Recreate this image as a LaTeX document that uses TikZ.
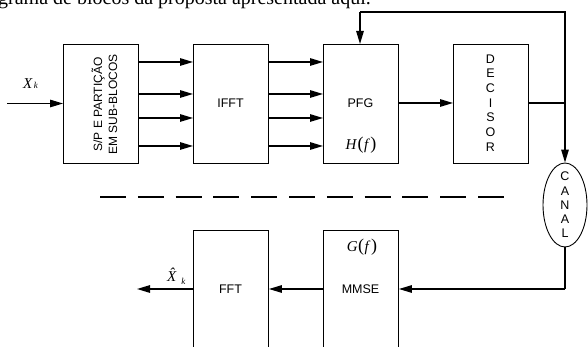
\documentclass[tikz,border=0pt]{standalone}
\usepackage{fontspec}
\setmainfont{Liberation Serif}
\newfontfamily\arialf{Liberation Sans}
\usetikzlibrary{arrows.meta,shapes.geometric}
\tikzset{
  blk/.style={draw, line width=0.9pt, minimum width=75pt, minimum height=119pt, inner sep=0pt, anchor=north west},
  sig/.style={line width=1.3pt, -{Triangle[length=13pt,width=7.5pt]}},
  wire/.style={line width=1.3pt},
  lbl/.style={font=\arialf\fontsize{12.5}{15}\selectfont, inner sep=0pt},
  mth/.style={font=\fontsize{15}{16}\selectfont, inner sep=0pt}
}
\begin{document}
\begin{tikzpicture}[x=1pt,y=-1pt]
\useasboundingbox (0,0) rectangle (588,347);
\clip (0,0) rectangle (588,347);
% caption fragment
\node[anchor=base west, inner sep=0pt, font=\fontsize{20}{22}\selectfont] (cap) at (-2,5) {grama de blocos da proposta apresentada aqui.};
% boxes
\node[blk] (sp) at (63,44) {};
\node[blk] (ifft) at (193,44) {};
\node[blk] (pfg) at (323,44) {};
\node[blk] (dec) at (453,44) {};
\node[blk, minimum height=130pt] (fft) at (193,230) {};
\node[blk, minimum height=130pt] (mmse) at (323,230) {};
\node[draw, ellipse, line width=0.9pt, minimum width=44pt, minimum height=84pt, inner sep=0pt] (canal) at (565,205) {};
% texts
\node[lbl, rotate=90, align=center, font=\arialf\fontsize{12}{15}\selectfont] (sptxt) at (104.5,104.5) {S/P E PARTIÇÃO\\EM SUB-BLOCOS};
\node[lbl] (ifftt) at (230.5,103) {IFFT};
\node[lbl] (pfgt) at (360.5,103) {PFG};
\node[mth] (hf) at (361,145) {\textit{H}\kern0.5pt{\fontsize{18}{18}\selectfont(}\kern0.5pt\textit{f}\kern0.5pt{\fontsize{18}{18}\selectfont)}};
\node[lbl, align=center, font=\arialf\fontsize{12.5}{14.7}\selectfont] (dect) at (490.5,103) {D\\E\\C\\I\\S\\O\\R};
\node[lbl, align=center, font=\arialf\fontsize{12.5}{14.3}\selectfont] (canalt) at (565,205) {C\\A\\N\\A\\L};
\node[lbl] (fftt) at (230.5,289) {FFT};
\node[lbl] (mmset) at (360.5,289) {MMSE};
\node[mth] (gf) at (362,247) {\textit{G}\kern0.5pt{\fontsize{18}{18}\selectfont(}\kern0.5pt\textit{f}\kern0.5pt{\fontsize{18}{18}\selectfont)}};
% input / output
\coordinate (in) at (7,103.5);
\coordinate (out) at (137,289);
\node[mth, anchor=base west] (xk) at (23,89) {\textit{X}\kern1pt{\fontsize{9}{9}\selectfont\textit{k}}};
\node[mth, anchor=base west] (xhk) at (167,281) {\textit{\^{X}}\kern-0.5pt{\fontsize{9}{9}\selectfont\raisebox{-3pt}{\textit{k}}}};
\draw[sig] (in) -- (sp.west |- in);
% S/P -> IFFT -> PFG
\foreach \y in {62,94,118,146}{
  \draw[sig] (sp.east |- 0,\y) -- (ifft.west |- 0,\y);
  \draw[sig] (ifft.east |- 0,\y) -- (pfg.west |- 0,\y);
}
\draw[sig] (pfg.east |- 0,103) -- (dec.west |- 0,103);
\coordinate (j) at (565,103);
\coordinate (tr) at (565,12);
\coordinate (tl) at (360,12);
\draw[wire] (dec.east |- j) -- (j);
\draw[wire] (j) -- (tr) -- (tl);
\draw[sig] (tl) -- (tl |- pfg.north);
\draw[sig] (j) -- (canal.north);
\coordinate (br) at (565,289);
\draw[wire] (canal.south) -- (br);
\draw[sig] (br) -- (mmse.east |- br);
\draw[sig] (mmse.west |- br) -- (fft.east |- br);
\draw[sig] (fft.west |- br) -- (out);
% dashed separator
\coordinate (d1) at (100,197);
\coordinate (d2) at (504,197);
\draw[line width=2.3pt, dash pattern=on 26pt off 11.8pt] (d1) -- (d2);
\end{tikzpicture}
\end{document}
